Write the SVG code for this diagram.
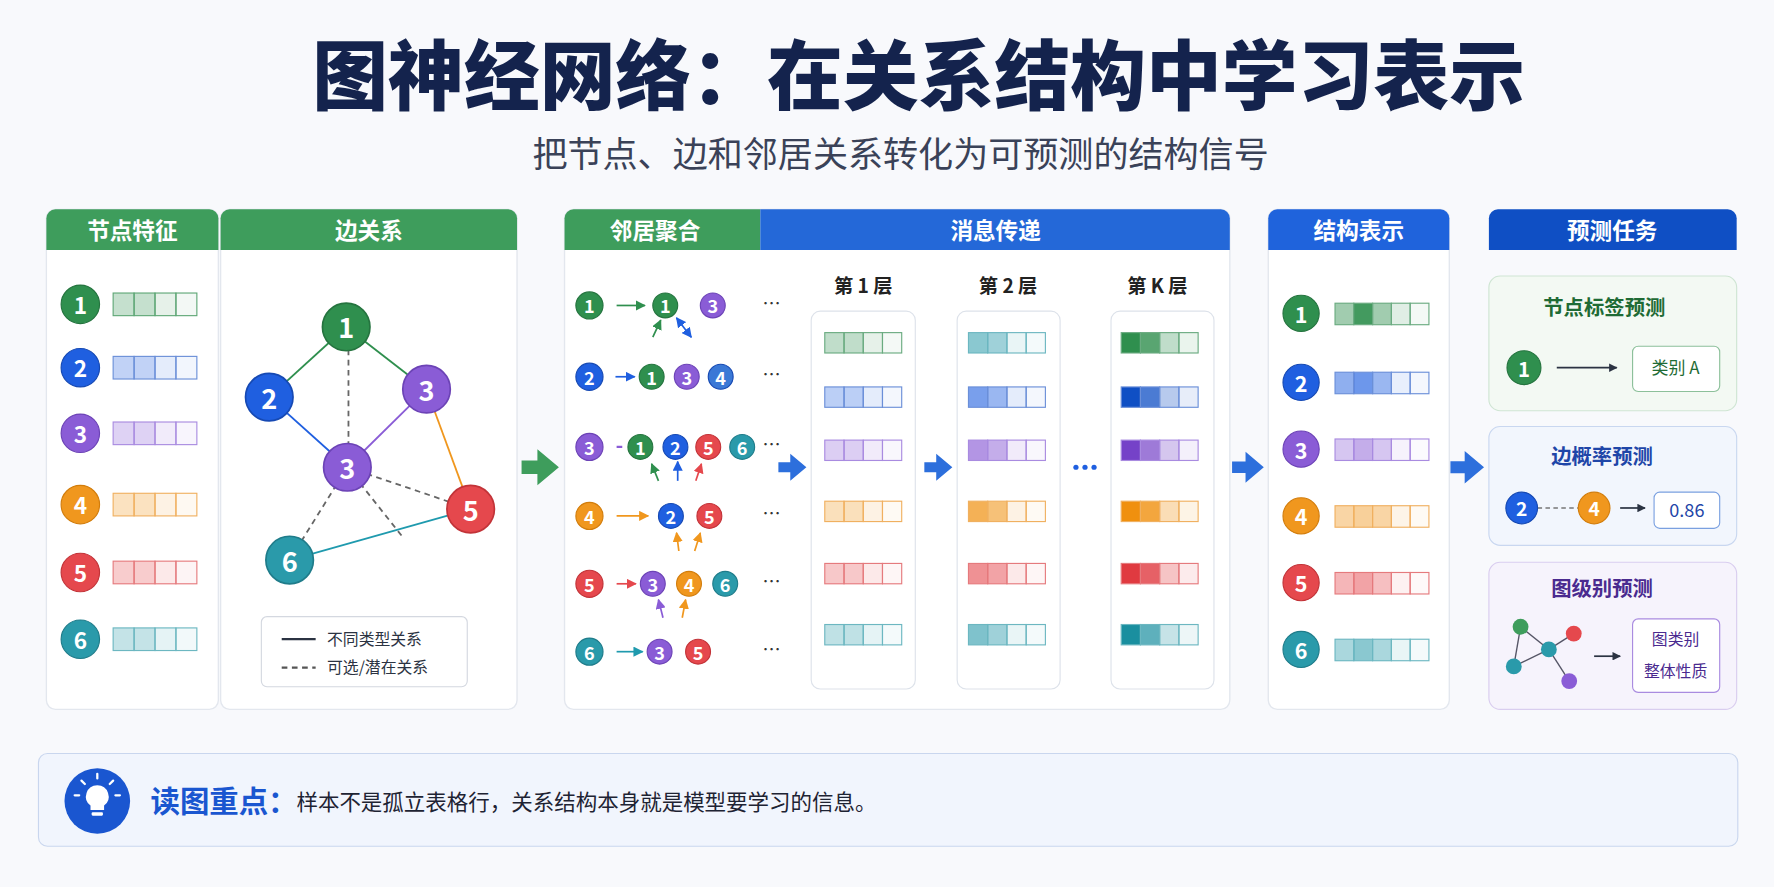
<svg xmlns="http://www.w3.org/2000/svg" width="1774" height="887" viewBox="0 0 1774 887">
<defs>
<style>
text{font-family:"Noto Sans CJK SC","Noto Sans",sans-serif}
.t{fill:#fff;font-weight:700;text-anchor:middle;dominant-baseline:central}
.hd{fill:#fff;font-weight:700;font-size:20px;text-anchor:middle;dominant-baseline:central}
.panel{fill:#fff;stroke:#e3e7ee;stroke-width:1.2}
.G{fill:#2f8f4e;stroke:#25743f}.B{fill:#1f5fe0;stroke:#1649b3}.P{fill:#8a5cd6;stroke:#6c43b6}
.O{fill:#f0971e;stroke:#d27d0c}.R{fill:#e5484d;stroke:#c23338}.T{fill:#2a9aaa;stroke:#1f7c8a}
.lbl{font-size:17px;font-weight:700;fill:#222;text-anchor:middle}
.dots{font-size:16px;fill:#333;text-anchor:middle}
</style>
<marker id="ah" viewBox="0 0 10 10" refX="9" refY="5" markerWidth="6" markerHeight="6" orient="auto-start-reverse"><path d="M0,0L10,5L0,10z" fill="context-stroke"/></marker>
<marker id="ahd" viewBox="0 0 10 10" refX="9" refY="5" markerWidth="5" markerHeight="5" orient="auto"><path d="M0,0L10,5L0,10z" fill="#2b3342"/></marker>
<path id="bigarrow" d="M0,-6h14v-10l19,16l-19,16v-10h-14z"/>
</defs>
<rect width="1774" height="887" fill="#f8f9fc"/>
<g transform="scale(1.13138)">
<text x="812" y="92" font-size="67" font-weight="900" fill="#14234d" text-anchor="middle">图神经网络：在关系结构中学习表示</text>
<text x="796" y="148" font-size="31" fill="#3a4258" text-anchor="middle">把节点、边和邻居关系转化为可预测的结构信号</text>

<!-- Panel 1 -->
<g id="panel-node-features">
<rect class="panel" x="41" y="185" width="152" height="442" rx="8"/>
<path d="M41,221V193a8,8 0 0 1 8-8h136a8,8 0 0 1 8,8v28z" fill="#3e9d5c"/>
<text class="hd" x="117" y="203">节点特征</text>
</g>
<g id="f1"><circle class="G" cx="71" cy="269" r="17"/><text class="t" x="71" y="269" font-size="20">1</text><g fill="#2f8f4e" stroke="#5fa776"><rect x="100" y="259" width="18.5" height="20" fill-opacity=".28"/><rect x="118.5" y="259" width="18.5" height="20" fill-opacity=".28"/><rect x="137" y="259" width="18.5" height="20" fill-opacity=".12"/><rect x="155.5" y="259" width="18.5" height="20" fill-opacity=".06"/></g></g>
<g id="f2"><circle class="B" cx="71" cy="325" r="17"/><text class="t" x="71" y="325" font-size="20">2</text><g fill="#1f5fe0" stroke="#6b8fd8"><rect x="100" y="315" width="18.5" height="20" fill-opacity=".28"/><rect x="118.5" y="315" width="18.5" height="20" fill-opacity=".28"/><rect x="137" y="315" width="18.5" height="20" fill-opacity=".12"/><rect x="155.5" y="315" width="18.5" height="20" fill-opacity=".06"/></g></g>
<g id="f3"><circle class="P" cx="71" cy="383" r="17"/><text class="t" x="71" y="383" font-size="20">3</text><g fill="#8a5cd6" stroke="#a98be0"><rect x="100" y="373" width="18.5" height="20" fill-opacity=".28"/><rect x="118.5" y="373" width="18.5" height="20" fill-opacity=".28"/><rect x="137" y="373" width="18.5" height="20" fill-opacity=".12"/><rect x="155.5" y="373" width="18.5" height="20" fill-opacity=".06"/></g></g>
<g id="f4"><circle class="O" cx="71" cy="446" r="17"/><text class="t" x="71" y="446" font-size="20">4</text><g fill="#f0971e" stroke="#f0b060"><rect x="100" y="436" width="18.5" height="20" fill-opacity=".28"/><rect x="118.5" y="436" width="18.5" height="20" fill-opacity=".28"/><rect x="137" y="436" width="18.5" height="20" fill-opacity=".12"/><rect x="155.5" y="436" width="18.5" height="20" fill-opacity=".06"/></g></g>
<g id="f5"><circle class="R" cx="71" cy="506" r="17"/><text class="t" x="71" y="506" font-size="20">5</text><g fill="#e5484d" stroke="#e57a7d"><rect x="100" y="496" width="18.5" height="20" fill-opacity=".28"/><rect x="118.5" y="496" width="18.5" height="20" fill-opacity=".28"/><rect x="137" y="496" width="18.5" height="20" fill-opacity=".12"/><rect x="155.5" y="496" width="18.5" height="20" fill-opacity=".06"/></g></g>
<g id="f6"><circle class="T" cx="71" cy="565" r="17"/><text class="t" x="71" y="565" font-size="20">6</text><g fill="#2a9aaa" stroke="#6cb7c1"><rect x="100" y="555" width="18.5" height="20" fill-opacity=".28"/><rect x="118.5" y="555" width="18.5" height="20" fill-opacity=".28"/><rect x="137" y="555" width="18.5" height="20" fill-opacity=".12"/><rect x="155.5" y="555" width="18.5" height="20" fill-opacity=".06"/></g></g>

<!-- Panel 2 -->
<g id="panel-edges">
<rect class="panel" x="195" y="185" width="262" height="442" rx="8"/>
<path d="M195,221V193a8,8 0 0 1 8-8h246a8,8 0 0 1 8,8v28z" fill="#3e9d5c"/>
<text class="hd" x="326" y="203">边关系</text>
</g>
<g id="graph-edges" stroke-width="1.6" fill="none">
<line x1="306" y1="289" x2="238" y2="351" stroke="#2f8f4e"/>
<line x1="306" y1="289" x2="377" y2="344" stroke="#2f8f4e"/>
<line x1="238" y1="351" x2="307" y2="413" stroke="#1f5fe0"/>
<line x1="377" y1="344" x2="307" y2="413" stroke="#8a5cd6"/>
<line x1="377" y1="344" x2="416" y2="450" stroke="#f0971e"/>
<line x1="256" y1="495" x2="416" y2="450" stroke="#1f9aae"/>
<g stroke="#666" stroke-dasharray="5 4">
<line x1="308" y1="300" x2="308" y2="402"/>
<line x1="307" y1="413" x2="416" y2="450"/>
<line x1="307" y1="413" x2="256" y2="495"/>
<line x1="307" y1="413" x2="357" y2="476"/>
</g>
</g>
<g id="g1"><circle class="G" cx="306" cy="289" r="21" stroke-width="1.5"/><text class="t" x="306" y="289" font-size="24">1</text></g>
<g id="g2"><circle class="B" cx="238" cy="351" r="21" stroke-width="1.5"/><text class="t" x="238" y="351" font-size="24">2</text></g>
<g id="g3a"><circle class="P" cx="377" cy="344" r="21" stroke-width="1.5"/><text class="t" x="377" y="344" font-size="24">3</text></g>
<g id="g3b"><circle class="P" cx="307" cy="413" r="21" stroke-width="1.5"/><text class="t" x="307" y="413" font-size="24">3</text></g>
<g id="g5"><circle class="R" cx="416" cy="450" r="21" stroke-width="1.5"/><text class="t" x="416" y="450" font-size="24">5</text></g>
<g id="g6"><circle class="T" cx="256" cy="495" r="21" stroke-width="1.5"/><text class="t" x="256" y="495" font-size="24">6</text></g>
<g id="legend">
<rect x="231" y="545" width="182" height="62" rx="5" fill="#fff" stroke="#d4d8e0"/>
<line x1="249" y1="565" x2="279" y2="565" stroke="#2b3342" stroke-width="2"/>
<text x="289" y="570" font-size="14" fill="#2b3342">不同类型关系</text>
<line x1="249" y1="590" x2="279" y2="590" stroke="#555" stroke-width="2" stroke-dasharray="5 4"/>
<text x="289" y="595" font-size="14" fill="#2b3342">可选/潜在关系</text>
</g>

<use href="#bigarrow" x="461" y="413" fill="#3e9d5c"/>

<!-- Panel 3 -->
<g id="panel-message">
<rect class="panel" x="499" y="185" width="588" height="442" rx="8"/>
<path d="M499,221V193a8,8 0 0 1 8-8h165v36z" fill="#3e9d5c"/>
<path d="M672,185h407a8,8 0 0 1 8,8v28h-415z" fill="#2468d8"/>
<text class="hd" x="579" y="203">邻居聚合</text>
<text class="hd" x="880" y="203">消息传递</text>
</g>
<g id="neighbor-arrows" stroke-width="1.5" fill="none">
<line x1="545" y1="270" x2="570" y2="270" stroke="#2f8f4e" marker-end="url(#ah)"/>
<line x1="577" y1="298" x2="584" y2="283" stroke="#2f8f4e" marker-end="url(#ah)"/>
<line x1="598" y1="281" x2="611" y2="298" stroke="#1f5fe0" marker-end="url(#ah)" marker-start="url(#ah)"/>
<line x1="544" y1="333" x2="561" y2="333" stroke="#1f5fe0" marker-end="url(#ah)"/>
<line x1="545" y1="395" x2="550" y2="395" stroke="#8a5cd6" stroke-width="2"/>
<line x1="582" y1="425" x2="576" y2="410" stroke="#2f8f4e" marker-end="url(#ah)"/>
<line x1="599" y1="425" x2="599" y2="408" stroke="#1f5fe0" marker-end="url(#ah)"/>
<line x1="615" y1="425" x2="620" y2="410" stroke="#e5484d" marker-end="url(#ah)"/>
<line x1="545" y1="456" x2="573" y2="456" stroke="#f0971e" marker-end="url(#ah)"/>
<line x1="600" y1="487" x2="598" y2="471" stroke="#f0971e" marker-end="url(#ah)"/>
<line x1="614" y1="487" x2="619" y2="471" stroke="#f0971e" marker-end="url(#ah)"/>
<line x1="545" y1="516" x2="562" y2="516" stroke="#e5484d" marker-end="url(#ah)"/>
<line x1="586" y1="546" x2="582" y2="530" stroke="#8a5cd6" marker-end="url(#ah)"/>
<line x1="603" y1="546" x2="606" y2="530" stroke="#f0971e" marker-end="url(#ah)"/>
<line x1="545" y1="576" x2="568" y2="576" stroke="#1f9aae" marker-end="url(#ah)"/>
</g>
<g id="neighbor-nodes" font-size="16">
<g id="r1"><circle class="G" cx="521" cy="270" r="12"/><text class="t" x="521" y="270">1</text><circle class="G" cx="588" cy="270" r="11"/><text class="t" x="588" y="270">1</text><circle class="P" cx="630" cy="270" r="11"/><text class="t" x="630" y="270">3</text><text class="dots" x="682" y="274">…</text></g>
<g id="r2"><circle class="B" cx="521" cy="333" r="12"/><text class="t" x="521" y="333">2</text><circle class="G" cx="576" cy="333" r="11"/><text class="t" x="576" y="333">1</text><circle class="P" cx="607" cy="333" r="11"/><text class="t" x="607" y="333">3</text><circle class="B" cx="637" cy="333" r="11" style="fill:#3a78d6"/><text class="t" x="637" y="333">4</text><text class="dots" x="682" y="337">…</text></g>
<g id="r3"><circle class="P" cx="521" cy="395" r="12"/><text class="t" x="521" y="395">3</text><circle class="G" cx="566" cy="395" r="11"/><text class="t" x="566" y="395">1</text><circle class="B" cx="597" cy="395" r="11"/><text class="t" x="597" y="395">2</text><circle class="R" cx="626" cy="395" r="11"/><text class="t" x="626" y="395">5</text><circle class="T" cx="656" cy="395" r="11"/><text class="t" x="656" y="395">6</text><text class="dots" x="682" y="399">…</text></g>
<g id="r4"><circle class="O" cx="521" cy="456" r="12"/><text class="t" x="521" y="456">4</text><circle class="B" cx="593" cy="456" r="11"/><text class="t" x="593" y="456">2</text><circle class="R" cx="627" cy="456" r="11"/><text class="t" x="627" y="456">5</text><text class="dots" x="682" y="460">…</text></g>
<g id="r5"><circle class="R" cx="521" cy="516" r="12"/><text class="t" x="521" y="516">5</text><circle class="P" cx="577" cy="516" r="11"/><text class="t" x="577" y="516">3</text><circle class="O" cx="609" cy="516" r="11"/><text class="t" x="609" y="516">4</text><circle class="T" cx="641" cy="516" r="11"/><text class="t" x="641" y="516">6</text><text class="dots" x="682" y="520">…</text></g>
<g id="r6"><circle class="T" cx="521" cy="576" r="12"/><text class="t" x="521" y="576">6</text><circle class="P" cx="583" cy="576" r="11"/><text class="t" x="583" y="576">3</text><circle class="R" cx="617" cy="576" r="11"/><text class="t" x="617" y="576">5</text><text class="dots" x="682" y="580">…</text></g>
</g>

<text class="lbl" x="763" y="259">第 1 层</text>
<text class="lbl" x="891" y="259">第 2 层</text>
<text class="lbl" x="1023" y="259">第 K 层</text>
<g id="layer1"><rect x="717" y="275" width="92" height="334" rx="8" fill="#fff" stroke="#dde2ea"/>
<g stroke-width="1">
<g fill="#2f8f4e" stroke="#6aab80"><rect x="729" y="294" width="17" height="18" fill-opacity=".3"/><rect x="746" y="294" width="17" height="18" fill-opacity=".3"/><rect x="763" y="294" width="17" height="18" fill-opacity=".12"/><rect x="780" y="294" width="17" height="18" fill-opacity=".05"/></g>
<g fill="#1f5fe0" stroke="#6b8fd8"><rect x="729" y="342" width="17" height="18" fill-opacity=".3"/><rect x="746" y="342" width="17" height="18" fill-opacity=".3"/><rect x="763" y="342" width="17" height="18" fill-opacity=".12"/><rect x="780" y="342" width="17" height="18" fill-opacity=".05"/></g>
<g fill="#8a5cd6" stroke="#a98be0"><rect x="729" y="389" width="17" height="18" fill-opacity=".3"/><rect x="746" y="389" width="17" height="18" fill-opacity=".3"/><rect x="763" y="389" width="17" height="18" fill-opacity=".12"/><rect x="780" y="389" width="17" height="18" fill-opacity=".05"/></g>
<g fill="#f0971e" stroke="#f0b060"><rect x="729" y="443" width="17" height="18" fill-opacity=".3"/><rect x="746" y="443" width="17" height="18" fill-opacity=".3"/><rect x="763" y="443" width="17" height="18" fill-opacity=".12"/><rect x="780" y="443" width="17" height="18" fill-opacity=".05"/></g>
<g fill="#e5484d" stroke="#e57a7d"><rect x="729" y="498" width="17" height="18" fill-opacity=".3"/><rect x="746" y="498" width="17" height="18" fill-opacity=".3"/><rect x="763" y="498" width="17" height="18" fill-opacity=".12"/><rect x="780" y="498" width="17" height="18" fill-opacity=".05"/></g>
<g fill="#2a9aaa" stroke="#6cb7c1"><rect x="729" y="552" width="17" height="18" fill-opacity=".3"/><rect x="746" y="552" width="17" height="18" fill-opacity=".3"/><rect x="763" y="552" width="17" height="18" fill-opacity=".12"/><rect x="780" y="552" width="17" height="18" fill-opacity=".05"/></g>
</g></g>
<g id="layer2"><rect x="846" y="275" width="91" height="334" rx="8" fill="#fff" stroke="#dde2ea"/>
<g stroke-width="1">
<g fill="#2a9aaa" stroke="#6cb7c1"><rect x="856" y="294" width="17" height="18" fill-opacity=".55"/><rect x="873" y="294" width="17" height="18" fill-opacity=".45"/><rect x="890" y="294" width="17" height="18" fill-opacity=".1"/><rect x="907" y="294" width="17" height="18" fill-opacity=".05"/></g>
<g fill="#1f5fe0" stroke="#6b8fd8"><rect x="856" y="342" width="17" height="18" fill-opacity=".6"/><rect x="873" y="342" width="17" height="18" fill-opacity=".45"/><rect x="890" y="342" width="17" height="18" fill-opacity=".12"/><rect x="907" y="342" width="17" height="18" fill-opacity=".05"/></g>
<g fill="#8a5cd6" stroke="#a98be0"><rect x="856" y="389" width="17" height="18" fill-opacity=".65"/><rect x="873" y="389" width="17" height="18" fill-opacity=".5"/><rect x="890" y="389" width="17" height="18" fill-opacity=".12"/><rect x="907" y="389" width="17" height="18" fill-opacity=".05"/></g>
<g fill="#f0971e" stroke="#f0b060"><rect x="856" y="443" width="17" height="18" fill-opacity=".75"/><rect x="873" y="443" width="17" height="18" fill-opacity=".6"/><rect x="890" y="443" width="17" height="18" fill-opacity=".12"/><rect x="907" y="443" width="17" height="18" fill-opacity=".05"/></g>
<g fill="#e5484d" stroke="#e57a7d"><rect x="856" y="498" width="17" height="18" fill-opacity=".6"/><rect x="873" y="498" width="17" height="18" fill-opacity=".5"/><rect x="890" y="498" width="17" height="18" fill-opacity=".12"/><rect x="907" y="498" width="17" height="18" fill-opacity=".05"/></g>
<g fill="#2a9aaa" stroke="#6cb7c1"><rect x="856" y="552" width="17" height="18" fill-opacity=".6"/><rect x="873" y="552" width="17" height="18" fill-opacity=".45"/><rect x="890" y="552" width="17" height="18" fill-opacity=".1"/><rect x="907" y="552" width="17" height="18" fill-opacity=".05"/></g>
</g></g>
<g id="layerK"><rect x="982" y="275" width="91" height="334" rx="8" fill="#fff" stroke="#dde2ea"/>
<g stroke-width="1">
<g fill="#2f8f4e" stroke="#6aab80"><rect x="991" y="294" width="17" height="18"/><rect x="1008" y="294" width="17" height="18" fill-opacity=".8"/><rect x="1025" y="294" width="17" height="18" fill-opacity=".3"/><rect x="1042" y="294" width="17" height="18" fill-opacity=".1"/></g>
<g fill="#0f4fc4" stroke="#6b8fd8"><rect x="991" y="342" width="17" height="18"/><rect x="1008" y="342" width="17" height="18" fill-opacity=".75"/><rect x="1025" y="342" width="17" height="18" fill-opacity=".3"/><rect x="1042" y="342" width="17" height="18" fill-opacity=".1"/></g>
<g fill="#7542c8" stroke="#a98be0"><rect x="991" y="389" width="17" height="18"/><rect x="1008" y="389" width="17" height="18" fill-opacity=".7"/><rect x="1025" y="389" width="17" height="18" fill-opacity=".3"/><rect x="1042" y="389" width="17" height="18" fill-opacity=".08"/></g>
<g fill="#f0900e" stroke="#f0b060"><rect x="991" y="443" width="17" height="18"/><rect x="1008" y="443" width="17" height="18" fill-opacity=".8"/><rect x="1025" y="443" width="17" height="18" fill-opacity=".3"/><rect x="1042" y="443" width="17" height="18" fill-opacity=".1"/></g>
<g fill="#e03a40" stroke="#e57a7d"><rect x="991" y="498" width="17" height="18"/><rect x="1008" y="498" width="17" height="18" fill-opacity=".8"/><rect x="1025" y="498" width="17" height="18" fill-opacity=".3"/><rect x="1042" y="498" width="17" height="18" fill-opacity=".1"/></g>
<g fill="#1a8f9f" stroke="#6cb7c1"><rect x="991" y="552" width="17" height="18"/><rect x="1008" y="552" width="17" height="18" fill-opacity=".7"/><rect x="1025" y="552" width="17" height="18" fill-opacity=".25"/><rect x="1042" y="552" width="17" height="18" fill-opacity=".08"/></g>
</g></g>
<use href="#bigarrow" x="688" y="413" fill="#2d6fdc" transform="translate(688 413) scale(0.75) translate(-688 -413)"/>
<use href="#bigarrow" x="817" y="413" fill="#2d6fdc" transform="translate(817 413) scale(0.75) translate(-817 -413)"/>
<g id="layer-ellipsis" fill="#1f5fe0"><circle cx="951" cy="413" r="2.3"/><circle cx="959" cy="413" r="2.3"/><circle cx="967" cy="413" r="2.3"/></g>
<use href="#bigarrow" x="1089" y="413" fill="#2d6fdc" transform="translate(1089 413) scale(0.85) translate(-1089 -413)"/>

<!-- Panel 4 -->
<g id="panel-structure">
<rect class="panel" x="1121" y="185" width="160" height="442" rx="8"/>
<path d="M1121,221V193a8,8 0 0 1 8-8h144a8,8 0 0 1 8,8v28z" fill="#1f63dc"/>
<text class="hd" x="1201" y="203">结构表示</text>
</g>
<g id="s-rows" stroke-width="1">
<g id="s1"><circle class="G" cx="1150" cy="277" r="16"/><text class="t" x="1150" y="277" font-size="19">1</text><g fill="#2f8f4e" stroke="#6aab80"><rect x="1180" y="268" width="16.6" height="19" fill-opacity=".45"/><rect x="1196.6" y="268" width="16.6" height="19" fill-opacity=".9"/><rect x="1213.2" y="268" width="16.6" height="19" fill-opacity=".45"/><rect x="1229.8" y="268" width="16.6" height="19" fill-opacity=".15"/><rect x="1246.4" y="268" width="16.6" height="19" fill-opacity=".05"/></g></g>
<g id="s2"><circle class="B" cx="1150" cy="338" r="16"/><text class="t" x="1150" y="338" font-size="19">2</text><g fill="#1f5fe0" stroke="#6b8fd8"><rect x="1180" y="329" width="16.6" height="19" fill-opacity=".5"/><rect x="1196.6" y="329" width="16.6" height="19" fill-opacity=".65"/><rect x="1213.2" y="329" width="16.6" height="19" fill-opacity=".45"/><rect x="1229.8" y="329" width="16.6" height="19" fill-opacity=".1"/><rect x="1246.4" y="329" width="16.6" height="19" fill-opacity=".05"/></g></g>
<g id="s3"><circle class="P" cx="1150" cy="397" r="16"/><text class="t" x="1150" y="397" font-size="19">3</text><g fill="#8a5cd6" stroke="#a98be0"><rect x="1180" y="388" width="16.6" height="19" fill-opacity=".35"/><rect x="1196.6" y="388" width="16.6" height="19" fill-opacity=".5"/><rect x="1213.2" y="388" width="16.6" height="19" fill-opacity=".35"/><rect x="1229.8" y="388" width="16.6" height="19" fill-opacity=".08"/><rect x="1246.4" y="388" width="16.6" height="19" fill-opacity=".03"/></g></g>
<g id="s4"><circle class="O" cx="1150" cy="456" r="16"/><text class="t" x="1150" y="456" font-size="19">4</text><g fill="#f0971e" stroke="#f0b060"><rect x="1180" y="447" width="16.6" height="19" fill-opacity=".4"/><rect x="1196.6" y="447" width="16.6" height="19" fill-opacity=".45"/><rect x="1213.2" y="447" width="16.6" height="19" fill-opacity=".4"/><rect x="1229.8" y="447" width="16.6" height="19" fill-opacity=".1"/><rect x="1246.4" y="447" width="16.6" height="19" fill-opacity=".05"/></g></g>
<g id="s5"><circle class="R" cx="1150" cy="515" r="16"/><text class="t" x="1150" y="515" font-size="19">5</text><g fill="#e5484d" stroke="#e57a7d"><rect x="1180" y="506" width="16.6" height="19" fill-opacity=".4"/><rect x="1196.6" y="506" width="16.6" height="19" fill-opacity=".5"/><rect x="1213.2" y="506" width="16.6" height="19" fill-opacity=".35"/><rect x="1229.8" y="506" width="16.6" height="19" fill-opacity=".08"/><rect x="1246.4" y="506" width="16.6" height="19" fill-opacity=".03"/></g></g>
<g id="s6"><circle class="T" cx="1150" cy="574" r="16"/><text class="t" x="1150" y="574" font-size="19">6</text><g fill="#2a9aaa" stroke="#6cb7c1"><rect x="1180" y="565" width="16.6" height="19" fill-opacity=".4"/><rect x="1196.6" y="565" width="16.6" height="19" fill-opacity=".55"/><rect x="1213.2" y="565" width="16.6" height="19" fill-opacity=".4"/><rect x="1229.8" y="565" width="16.6" height="19" fill-opacity=".1"/><rect x="1246.4" y="565" width="16.6" height="19" fill-opacity=".05"/></g></g>
</g>
<use href="#bigarrow" x="1282" y="413" fill="#2d6fdc" transform="translate(1282 413) scale(0.9) translate(-1282 -413)"/>

<!-- Panel 5 -->
<g id="panel-tasks">
<path d="M1316,221V193a8,8 0 0 1 8-8h203a8,8 0 0 1 8,8v28z" fill="#0f4fc4"/>
<text class="hd" x="1425" y="203">预测任务</text>
</g>
<g id="task-node">
<rect x="1316" y="244" width="219" height="119" rx="10" fill="#f3f9f3" stroke="#cfe5d3"/>
<text x="1418" y="278" font-size="18" font-weight="700" fill="#1f6b35" text-anchor="middle">节点标签预测</text>
<circle class="G" cx="1347" cy="325" r="15"/><text class="t" x="1347" y="325" font-size="18">1</text>
<line x1="1376" y1="325" x2="1429" y2="325" stroke="#2b3342" stroke-width="1.5" marker-end="url(#ahd)"/>
<rect x="1443" y="306" width="77" height="40" rx="5" fill="#fff" stroke="#8cc09a"/>
<text x="1481" y="331" font-size="15" fill="#1f6b35" text-anchor="middle">类别 A</text>
</g>
<g id="task-edge">
<rect x="1316" y="377" width="219" height="105" rx="10" fill="#f2f6fd" stroke="#c9d7f0"/>
<text x="1416" y="410" font-size="18" font-weight="700" fill="#1f46a8" text-anchor="middle">边概率预测</text>
<line x1="1359" y1="449" x2="1395" y2="449" stroke="#777" stroke-width="1.3" stroke-dasharray="4 3"/>
<circle class="B" cx="1345" cy="449" r="14"/><text class="t" x="1345" y="449" font-size="17">2</text>
<circle class="O" cx="1409" cy="449" r="14"/><text class="t" x="1409" y="449" font-size="17">4</text>
<line x1="1432" y1="449" x2="1454" y2="449" stroke="#2b3342" stroke-width="1.5" marker-end="url(#ahd)"/>
<rect x="1462" y="435" width="58" height="32" rx="5" fill="#fff" stroke="#7aa0e0"/>
<text x="1491" y="457" font-size="16" fill="#1f46a8" text-anchor="middle">0.86</text>
</g>
<g id="task-graph">
<rect x="1316" y="497" width="219" height="130" rx="10" fill="#f6f3fc" stroke="#d9cdef"/>
<text x="1416" y="527" font-size="18" font-weight="700" fill="#4a2a8f" text-anchor="middle">图级别预测</text>
<g stroke="#556" stroke-width="1.2"><line x1="1344" y1="554" x2="1369" y2="574"/><line x1="1344" y1="554" x2="1338" y2="589"/><line x1="1338" y1="589" x2="1369" y2="574"/><line x1="1369" y1="574" x2="1391" y2="560"/><line x1="1369" y1="574" x2="1387" y2="602"/></g>
<circle cx="1344" cy="554" r="7" fill="#3e9d5c"/><circle cx="1391" cy="560" r="7" fill="#e5484d"/><circle cx="1369" cy="574" r="7" fill="#2a9aaa"/><circle cx="1338" cy="589" r="7" fill="#2a9aaa"/><circle cx="1387" cy="602" r="7" fill="#8a5cd6"/>
<line x1="1409" y1="580" x2="1432" y2="580" stroke="#2b3342" stroke-width="1.5" marker-end="url(#ahd)"/>
<rect x="1443" y="547" width="77" height="65" rx="5" fill="#fff" stroke="#a98be0"/>
<text x="1481" y="570" font-size="14" fill="#4a2a8f" text-anchor="middle">图类别</text>
<text x="1481" y="598" font-size="14" fill="#4a2a8f" text-anchor="middle">整体性质</text>
</g>

<!-- Bottom -->
<g id="takeaway">
<rect x="34" y="666" width="1502" height="82" rx="8" fill="#f1f5fd" stroke="#c9d6ee"/>
<circle cx="86" cy="708" r="29" fill="#1a56d0"/>
<path d="M86,694a10,10 0 0 0-6,18v4h12v-4a10,10 0 0 0-6-18z" fill="#fff"/>
<rect x="81" y="718" width="10" height="3" rx="1" fill="#fff"/>
<g stroke="#fff" stroke-width="2" stroke-linecap="round"><line x1="86" y1="684" x2="86" y2="688"/><line x1="72" y1="690" x2="75" y2="693"/><line x1="100" y1="690" x2="97" y2="693"/><line x1="66" y1="703" x2="70" y2="703"/><line x1="106" y1="703" x2="102" y2="703"/></g>
<text x="133" y="718" font-size="26" font-weight="700" fill="#1a56d0">读图重点：</text>
<text x="262" y="716" font-size="19" fill="#1e2333">样本不是孤立表格行，关系结构本身就是模型要学习的信息。</text>
</g>
</g>
</svg>
